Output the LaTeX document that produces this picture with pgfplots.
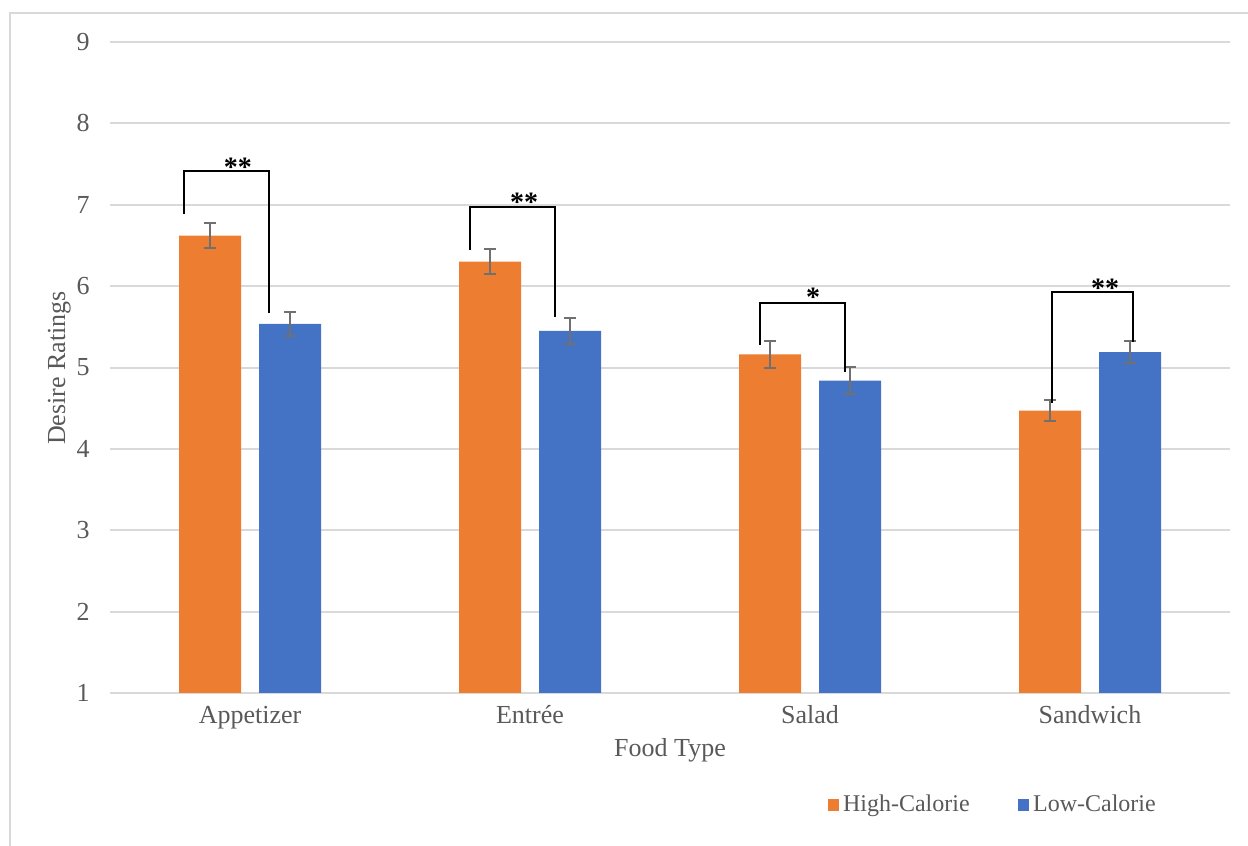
\documentclass[border=0pt]{standalone}
\usepackage{fontspec}
\setmainfont{Liberation Serif}
\usepackage{pgfplots}
\pgfplotsset{compat=1.18}

\definecolor{hical}{HTML}{ED7D31}
\definecolor{lowcal}{HTML}{4472C4}
\definecolor{gridgray}{HTML}{D9D9D9}
\definecolor{txtgray}{HTML}{595959}
\definecolor{errgray}{HTML}{707070}

\newcommand{\lbl}{\fontsize{13}{15}\selectfont}
\newcommand{\sig}{\fontsize{14}{16}\selectfont\bfseries}

\begin{document}
\begin{tikzpicture}
\path[use as bounding box] (0pt,0pt) rectangle (624pt,423pt);
% chart area frame
\draw[gridgray, line width=1pt] (5pt,0pt) -- (5pt,416.5pt) -- (624pt,416.5pt);

\begin{axis}[
  at={(55pt,76.5pt)}, anchor=south west,
  scale only axis, width=560pt, height=325.5pt,
  xmin=-0.5, xmax=3.5, ymin=1, ymax=9,
  ybar=9pt, bar width=31pt,
  xtick={0,1,2,3},
  xticklabels={Appetizer,Entrée,Salad,Sandwich},
  ytick={1,2,...,9},
  ymajorgrids, grid style={gridgray, line width=1pt},
  axis line style={draw=none},
  major tick length=0pt,
  /pgf/number format/assume math mode=true,
  tick label style={font=\lbl, text=txtgray},
  yticklabel style={anchor=east, inner sep=0pt, xshift=-10pt},
  xticklabel style={anchor=base, inner sep=0pt, yshift=-15.5pt},
  clip=false,
  legend columns=2,
  legend style={at={(0.6408,-0.172)}, anchor=west, draw=none, fill=none,
    inner sep=0pt, outer sep=0pt, font=\fontsize{12}{14}\selectfont, text=txtgray,
    nodes={inner sep=2pt},
    /tikz/every even column/.append style={column sep=22pt}},
]
% High-calorie means with error bars
\addplot[fill=hical, draw=none, forget plot, bar shift=-20pt,
  error bars/.cd, y dir=both, y explicit,
  error bar style={errgray, line width=1pt},
  error mark options={rotate=90, errgray, mark size=3pt, line width=1pt}]
  coordinates {(0,6.62) +- (0,0.15) (1,6.30) +- (0,0.153) (2,5.16) +- (0,0.16) (3,4.47) +- (0,0.13)};
% Low-calorie means with error bars
\addplot[fill=lowcal, draw=none, forget plot, bar shift=20pt,
  error bars/.cd, y dir=both, y explicit,
  error bar style={errgray, line width=1pt},
  error mark options={rotate=90, errgray, mark size=3pt, line width=1pt}]
  coordinates {(0,5.535) +- (0,0.153) (1,5.45) +- (0,0.16) (2,4.84) +- (0,0.163) (3,5.19) +- (0,0.14)};

\addlegendimage{legend image code/.code={\fill[hical] (0pt,-2.65pt) rectangle (5.3pt,2.65pt);}}
\addlegendentry{High-Calorie}
\addlegendimage{legend image code/.code={\fill[lowcal] (0pt,-2.65pt) rectangle (5.3pt,2.65pt);}}
\addlegendentry{Low-Calorie}

% significance brackets
\draw[black, line width=1pt] (axis cs:-0.236,6.886) -- (axis cs:-0.236,7.415) -- (axis cs:0.068,7.415) -- (axis cs:0.068,5.670);
\draw[black, line width=1pt] (axis cs:0.786,6.444) -- (axis cs:0.786,6.972) -- (axis cs:1.089,6.972) -- (axis cs:1.089,5.621);
\draw[black, line width=1pt] (axis cs:1.821,5.277) -- (axis cs:1.821,5.793) -- (axis cs:2.125,5.793) -- (axis cs:2.125,4.945);
\draw[black, line width=1pt] (axis cs:2.864,4.564) -- (axis cs:2.864,5.928) -- (axis cs:3.154,5.928) -- (axis cs:3.154,5.313);
\node[anchor=base, yshift=-7.3pt, font=\sig] at (axis cs:-0.043,7.525) {**};
\node[anchor=base, yshift=-7.3pt, font=\sig] at (axis cs:0.979,7.095) {**};
\node[anchor=base, yshift=-7.3pt, font=\sig] at (axis cs:2.011,5.928) {*};
\node[anchor=base, yshift=-7.3pt, font=\sig] at (axis cs:3.054,6.038) {**};
\end{axis}

\node[anchor=base, font=\lbl, text=txtgray] at (335pt,44.5pt) {Food Type};
\node[anchor=base, rotate=90, font=\lbl, text=txtgray] at (32.5pt,239pt) {Desire Ratings};
\end{tikzpicture}
\end{document}
